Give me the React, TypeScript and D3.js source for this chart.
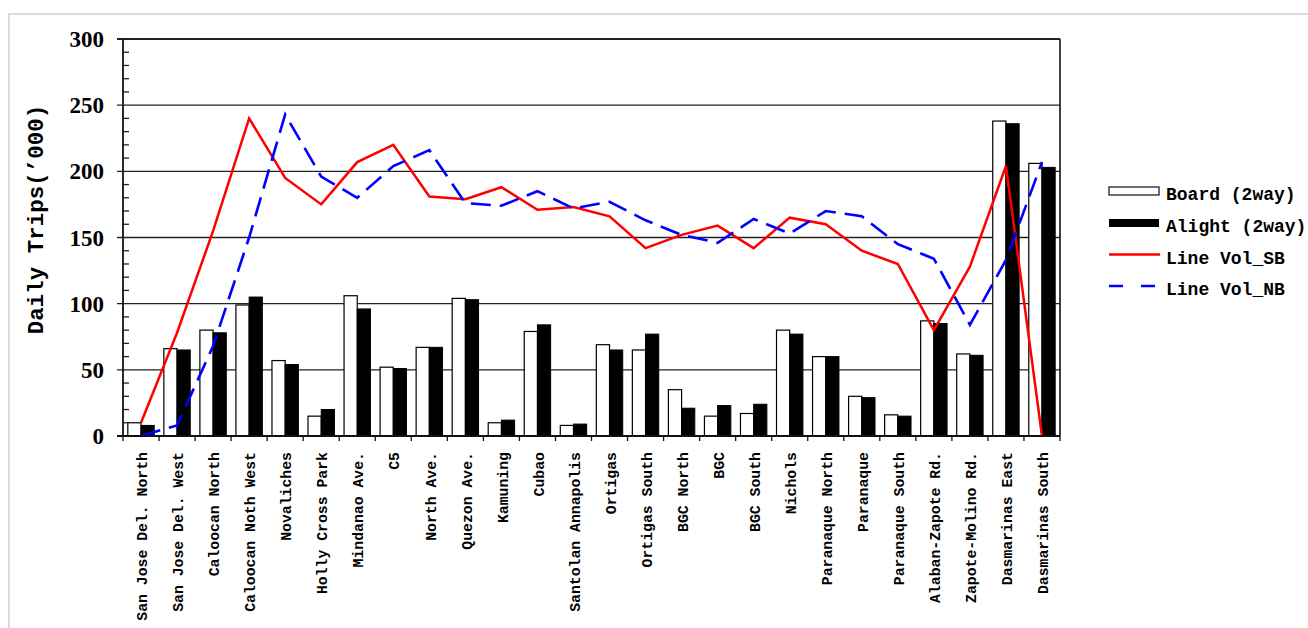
import React from 'react';
import * as d3 from 'd3';

const stations = [
  'San Jose Del. North', 'San Jose Del. West', 'Caloocan North', 'Caloocan Noth West',
  'Novaliches', 'Holly Cross Park', 'Mindanao Ave.', 'C5', 'North Ave.', 'Quezon Ave.',
  'Kamuning', 'Cubao', 'Santolan Annapolis', 'Ortigas', 'Ortigas South', 'BGC North',
  'BGC', 'BGC South', 'Nichols', 'Paranaque North', 'Paranaque', 'Paranaque South',
  'Alaban-Zapote Rd.', 'Zapote-Molino Rd.', 'Dasmarinas East', 'Dasmarinas South'
];
const board = [10, 66, 80, 99, 57, 15, 106, 52, 67, 104, 10, 79, 8, 69, 65, 35, 15, 17, 80, 60, 30, 16, 87, 62, 238, 206];
const alight = [8, 65, 78, 105, 54, 20, 96, 51, 67, 103, 12, 84, 9, 65, 77, 21, 23, 24, 77, 60, 29, 15, 85, 61, 236, 203];
const volSB = [10, 78, 155, 240, 195, 175, 207, 220, 181, 179, 188, 171, 173, 166, 142, 152, 159, 142, 165, 160, 140, 130, 80, 128, 204, 0];
const volNB = [0, 8, 68, 150, 243, 196, 180, 204, 216, 176, 174, 185, 172, 177, 163, 152, 146, 164, 153, 170, 166, 145, 134, 84, 133, 207];
const yTicks = [0, 50, 100, 150, 200, 250, 300];

const mono = '"Liberation Mono", "DejaVu Sans Mono", monospace';
const serif = '"Liberation Serif", "DejaVu Serif", serif';

const margin = {top: 39, left: 123};
const width = 937;
const height = 397;

const App = () => {
  const x = d3.scaleBand().domain(stations).range([0, width]);
  const y = d3.scaleLinear().domain([0, 300]).range([height, 0]);
  const bw = x.bandwidth();
  const barW = 13.2;
  const cx = (i: number) => (x(stations[i]) as number) + bw / 2;

  const line = (vals: number[]) => d3.line<number>()
    .x((_, i) => cx(i))
    .y(d => y(d))(vals) as string;

  const minor = d3.range(0, 301, 10).filter(v => v % 50 !== 0);

  const legendX = 1109;
  const legend = [
    {label: 'Board (2way)', y: 191},
    {label: 'Alight (2way)', y: 223},
    {label: 'Line Vol_SB', y: 254.5},
    {label: 'Line Vol_NB', y: 286},
  ];

  return (
    <svg width={1308} height={628} style={{position: 'absolute', left: 0, top: 0}}>
      <rect x={0} y={0} width={1308} height={628} fill="#fff" />
      <rect x={9} y={14} width={1310} height={640} fill="none" stroke="#dcdcdc" strokeWidth={2} />
      <g transform={`translate(${margin.left},${margin.top})`}>
        {/* gridlines */}
        {yTicks.filter(v => v > 0).map(v => (
          <line key={v} x1={-6} x2={width} y1={y(v)} y2={y(v)} stroke="#222" strokeWidth={1.3} />
        ))}
        {/* minor ticks inward */}
        {minor.map(v => (
          <line key={v} x1={0} x2={6} y1={y(v)} y2={y(v)} stroke="#222" strokeWidth={1.3} />
        ))}
        {/* bars */}
        {stations.map((s, i) => (
          <g key={s}>
            <rect x={cx(i) - barW} y={y(board[i])} width={barW} height={height - y(board[i])}
              fill="#fff" stroke="#000" strokeWidth={1.2} />
            <rect x={cx(i)} y={y(alight[i])} width={barW} height={height - y(alight[i])}
              fill="#000" stroke="#000" strokeWidth={1} />
          </g>
        ))}
        <path d={line(volSB)} fill="none" stroke="#ff0000" strokeWidth={2.5} strokeLinejoin="miter" />
        <path d={line(volNB)} fill="none" stroke="#0000ff" strokeWidth={2.6} strokeDasharray="20,9" />
        {/* frame */}
        <line x1={0} x2={width} y1={0} y2={0} stroke="#111" strokeWidth={1.6} />
        <line x1={width} x2={width} y1={0} y2={height} stroke="#111" strokeWidth={1.6} />
        <line x1={0} x2={0} y1={0} y2={height} stroke="#111" strokeWidth={1.8} />
        <line x1={-6} x2={width} y1={height} y2={height} stroke="#111" strokeWidth={1.8} />
        <line x1={-6} x2={0} y1={0} y2={0} stroke="#111" strokeWidth={1.6} />
        {/* x ticks */}
        {d3.range(stations.length + 1).map(i => (
          <line key={i} x1={i * bw} x2={i * bw} y1={height} y2={height + 5} stroke="#111" strokeWidth={1.3} />
        ))}
        {/* y tick labels */}
        {yTicks.map(v => (
          <text key={v} x={-19} y={y(v)} dy="0.35em" textAnchor="end"
            fontFamily={serif} fontWeight="bold" fontSize={23}>{v}</text>
        ))}
        {/* x labels */}
        {stations.map((s, i) => (
          <text key={s} transform={`translate(${cx(i) + 1},${height + 16}) rotate(-90)`}
            textAnchor="end" dy="0.35em" fontFamily={mono} fontWeight="bold" fontSize={14.8}>{s}</text>
        ))}
      </g>
      <text transform={`translate(35,${margin.top + height / 2 - 18}) rotate(-90)`} textAnchor="middle"
        dy="0.35em" fontFamily={mono} fontWeight="bold" fontSize={22.5}>Daily Trips(’000)</text>
      {/* legend */}
      <rect x={legendX} y={187} width={50} height={8} fill="#fff" stroke="#222" strokeWidth={1.3} />
      <rect x={legendX} y={219} width={50} height={8} fill="#000" />
      <line x1={legendX} x2={legendX + 51} y1={254.5} y2={254.5} stroke="#ff0000" strokeWidth={2.5} />
      <line x1={legendX} x2={legendX + 51} y1={286} y2={286} stroke="#0000ff" strokeWidth={2.6} strokeDasharray="14,18" />
      {legend.map(l => (
        <text key={l.label} x={1166} y={l.y + 3} dy="0.35em" fontFamily={mono} fontWeight="bold" fontSize={18}>{l.label}</text>
      ))}
    </svg>
  );
};

export default App;
